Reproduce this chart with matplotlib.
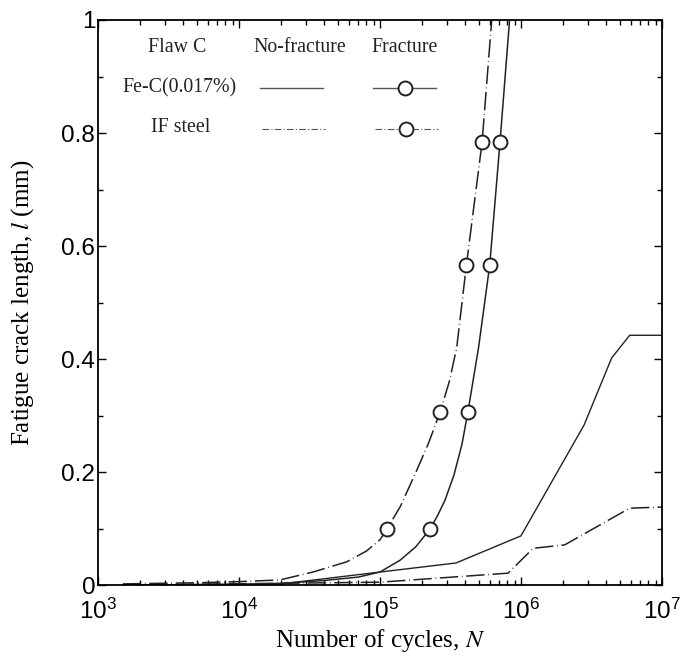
import numpy as np
import matplotlib
matplotlib.use("Agg")
import matplotlib.pyplot as plt
from matplotlib.ticker import LogLocator, MultipleLocator, FuncFormatter
from matplotlib.lines import Line2D

plt.rcParams['font.family'] = 'Liberation Sans'
plt.rcParams['mathtext.fontset'] = 'custom'
plt.rcParams['mathtext.rm'] = 'Liberation Sans'
plt.rcParams['mathtext.it'] = 'Liberation Sans:italic'

# Fe-C(0.017%) fracture curve
fec_frac_N = [1.5e3, 1e4, 2e4, 4e4, 7e4, 1e5, 1.39e5, 1.8e5, 2.26e5, 2.55e5, 2.89e5,
              3.35e5, 3.82e5, 4.2e5, 5e5, 6e5, 7.1e5, 8.3e5]
fec_frac_l = [0.0, 0.001, 0.003, 0.008, 0.014, 0.023, 0.044, 0.068, 0.099, 0.122, 0.15,
              0.195, 0.25, 0.306, 0.42, 0.566, 0.784, 1.0]
fec_mark_N = [2.26e5, 4.2e5, 6e5, 7.1e5]
fec_mark_l = [0.099, 0.306, 0.566, 0.784]

# IF steel fracture curve
if_frac_N = [1.5e3, 5e3, 1e4, 1.95e4, 3.35e4, 5.8e4, 8e4, 1e5, 1.12e5, 1.4e5,
             1.8e5, 2.2e5, 2.67e5, 3.1e5, 3.5e5, 4.1e5, 5.3e5, 6.2e5]
if_frac_l = [0.002, 0.004, 0.006, 0.009, 0.023, 0.041, 0.06, 0.080, 0.099, 0.14,
             0.2, 0.25, 0.306, 0.36, 0.42, 0.566, 0.784, 1.0]
if_mark_N = [1.12e5, 2.67e5, 4.1e5, 5.3e5]
if_mark_l = [0.099, 0.306, 0.566, 0.784]

# no-fracture curves
fec_nof_N = [1.5e3, 2e4, 1e5, 3.46e5, 1e6, 2.8e6, 4.4e6, 5.9e6, 1e7]
fec_nof_l = [0.0, 0.002, 0.023, 0.039, 0.087, 0.283, 0.402, 0.442, 0.442]
if_nof_N = [1.5e3, 1e5, 8.1e5, 1.22e6, 2.04e6, 5.9e6, 1e7]
if_nof_l = [0.0, 0.005, 0.021, 0.065, 0.071, 0.136, 0.138]

dashdot = (0, (12, 2.4, 0.5, 2.4))
c = '#222222'

fig = plt.figure(figsize=(6.84, 6.6), dpi=100)
ax = fig.add_axes([0.1433, 0.1136, 0.8245, 0.8561])

ax.plot(fec_nof_N, fec_nof_l, color=c, lw=1.0)
ax.plot(if_nof_N, if_nof_l, color=c, lw=1.1, linestyle=dashdot)
ax.plot(fec_frac_N, fec_frac_l, color=c, lw=1.1)
ax.plot(if_frac_N, if_frac_l, color=c, lw=1.1, linestyle=dashdot)
ax.plot(fec_mark_N, fec_mark_l, 'o', ms=10, mfc='white', mec=c, mew=1.4)
ax.plot(if_mark_N, if_mark_l, 'o', ms=10, mfc='white', mec=c, mew=1.4)

ax.set_xscale('log')
ax.set_xlim(1e3, 1e7)
ax.set_ylim(0, 1)
ax.xaxis.set_major_locator(LogLocator(base=10, numticks=10))
ax.xaxis.set_minor_locator(LogLocator(base=10, subs=np.arange(2, 10), numticks=20))
ax.yaxis.set_major_locator(MultipleLocator(0.2))
ax.yaxis.set_minor_locator(MultipleLocator(0.1))
ax.yaxis.set_major_formatter(FuncFormatter(lambda v, p: '%g' % v))
ax.tick_params(which='both', direction='in', top=True, right=True, width=1.0,
               labelsize=17.5)
ax.tick_params(axis='y', pad=2)
ax.tick_params(axis='x', pad=10)
ax.tick_params(which='major', length=6)
ax.tick_params(which='minor', length=3.5)
for s in ax.spines.values():
    s.set_linewidth(1.3)

ax.set_xlabel('Number of cycles, $\\it{N}$', family='Liberation Serif', fontsize=18, labelpad=2)
ax.set_ylabel('Fatigue crack length, $\\it{l}$ (mm)', family='Liberation Serif', fontsize=18, labelpad=18)
ax.xaxis.label.set_math_fontfamily('stix')
ax.yaxis.label.set_math_fontfamily('stix')

# legend table
tr = ax.transAxes
tk = dict(transform=tr, family='Liberation Serif', fontsize=14.3, ha='center', va='center', color='#222222')
ax.text(0.140, 0.952, 'Flaw C', **tk)
ax.text(0.358, 0.952, 'No-fracture', **tk)
ax.text(0.543, 0.952, 'Fracture', **tk)
ax.text(0.145, 0.880, 'Fe-C(0.017%)', **tk)
ax.text(0.147, 0.809, 'IF steel', **tk)
ax.add_line(Line2D([0.287, 0.399], [0.879, 0.879], transform=tr, color='#555555', lw=1.0))
ax.add_line(Line2D([0.488, 0.599], [0.879, 0.879], transform=tr, color='#555555', lw=1.0))
ax.add_line(Line2D([0.544], [0.879], transform=tr, marker='o', ms=10, mfc='white', mec=c, mew=1.4))
ax.add_line(Line2D([0.291, 0.403], [0.807, 0.807], transform=tr, color='#555555', lw=0.8, linestyle=(0, (6, 2, 1, 2))))
ax.add_line(Line2D([0.491, 0.603], [0.807, 0.807], transform=tr, color='#555555', lw=0.8, linestyle=(0, (6, 2, 1, 2))))
ax.add_line(Line2D([0.546], [0.807], transform=tr, marker='o', ms=10, mfc='white', mec=c, mew=1.4))

fig.savefig('out.png', dpi=100)
